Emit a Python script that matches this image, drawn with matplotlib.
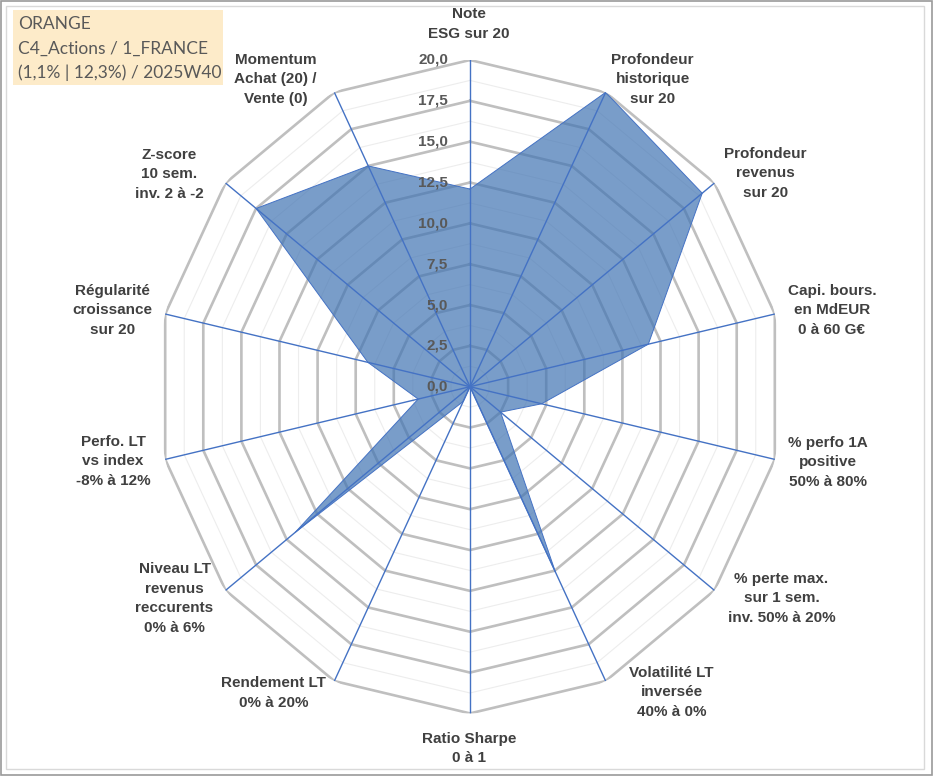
import numpy as np
import matplotlib
matplotlib.use("Agg")
import matplotlib.pyplot as plt
from matplotlib.patches import Rectangle

# ── data ─────────────────────────────────────────────
categories = [
    "Note\nESG sur 20",
    "Profondeur\nhistorique\nsur 20",
    "Profondeur\nrevenus\nsur 20",
    "Capi. bours.\nen MdEUR\n0 à 60 G€",
    "% perfo 1A\npositive\n50% à 80%",
    "% perte max.\nsur 1 sem.\ninv. 50% à 20%",
    "Volatilité LT\ninversée\n40% à 0%",
    "Ratio Sharpe\n0 à 1",
    "Rendement LT\n0% à 20%",
    "Niveau LT\nrevenus\nreccurents\n0% à 6%",
    "Perfo. LT\nvs index\n-8% à 12%",
    "Régularité\ncroissance\nsur 20",
    "Z-score\n10 sem.\ninv. 2 à -2",
    "Momentum\nAchat (20) /\nVente (0)",
]
scores = [12.1, 20.0, 19.0, 11.7, 4.7, 2.5, 12.6, 0.0, 1.0, 14.3, 3.4, 6.7, 17.5, 15.0]
major_ticks = [0.0, 2.5, 5.0, 7.5, 10.0, 12.5, 15.0, 17.5, 20.0]
minor_ticks = [1.25, 3.75, 6.25, 8.75, 11.25, 13.75, 16.25, 18.75]
title_lines = ["ORANGE", "C4_Actions / 1_FRANCE", "(1,1% | 12,3%) / 2025W40"]

# label offsets from the outer vertex, in pixels (x right, y down)
label_offsets = [(-1, -36), (47, -13), (51, -10), (57, -4), (53, 3), (67, 8), (66, 11),
                 (-1, 35), (-61, 12), (-51, 8), (-52, 2), (-53, -4), (-56, -9), (-59, -13)]

SPOKE = "#4472C4"
GRID = "#BFBFBF"
TXT = "#404040"

n = len(categories)
theta = np.arange(n) * 2 * np.pi / n
theta_c = np.append(theta, theta[0])

fig = plt.figure(figsize=(9.33, 7.76), dpi=100)
W, H = 933, 776
cx, cy, ry = 470, 386.7, 326.7
rx = ry * 0.957
ax = fig.add_axes([(cx - rx) / W, (H - cy - ry) / H, 2 * rx / W, 2 * ry / H],
                  projection="polar")
ax.set_aspect("auto")
ax.set_theta_offset(np.pi / 2)
ax.set_theta_direction(-1)
ax.set_ylim(0, 20)
ax.grid(False)
ax.set_xticks([])
ax.set_yticks([])
ax.spines["polar"].set_visible(False)
ax.patch.set_alpha(0)

# polygon grid
for r in minor_ticks:
    ax.plot(theta_c, [r] * (n + 1), color="#EDEDED", lw=0.8, zorder=1)
for r in major_ticks[1:]:
    ax.plot(theta_c, [r] * (n + 1), color=GRID, lw=1.9, zorder=1)

# series
vals = np.append(scores, scores[0])
ax.fill(theta_c, vals, color="#4174B3", alpha=0.7, zorder=2, lw=0)
ax.plot(theta_c, vals, color=SPOKE, lw=0.7, zorder=3)

# spokes
for t in theta:
    ax.plot([t, t], [0, 20], color=SPOKE, lw=1.0, zorder=3)

# radial tick labels
for r in major_ticks:
    ax.annotate(f"{r:.1f}".replace(".", ","), xy=(0, r), xytext=(-22, 0),
                textcoords="offset pixels", ha="right", va="center",
                fontsize=11, fontweight="bold", color="#595959",
                family="Liberation Sans", zorder=4)

# category labels
for t, lab, (dx, dy) in zip(theta, categories, label_offsets):
    ax.annotate(lab, xy=(t, 20), xytext=(dx, -dy), textcoords="offset pixels",
                ha="center", va="center", multialignment="center",
                fontsize=11, fontweight="bold", color=TXT,
                family="Liberation Sans", linespacing=1.5, annotation_clip=False)

# title box
fig.patches.append(Rectangle((13 / W, 1 - 85 / H), 210 / W, 75 / H,
                             transform=fig.transFigure, facecolor="#FDEBC9",
                             edgecolor="none", zorder=0))
for i, line in enumerate(title_lines):
    fig.text(18 / W, 1 - (24 + i * 24.3) / H, line, ha="left", va="center",
             fontsize=12.5, color="#595959", family="Lato")

# frame
fig.patches.append(Rectangle((1 / W, 1 / H), 931 / W, 774 / H, transform=fig.transFigure,
                             fill=False, edgecolor="#9A9A9A", lw=1.2))
fig.patches.append(Rectangle((6 / W, 7 / H), 918 / W, 763 / H, transform=fig.transFigure,
                             fill=False, edgecolor="#D9D9D9", lw=1.0))

fig.savefig("out.png", dpi=100)
